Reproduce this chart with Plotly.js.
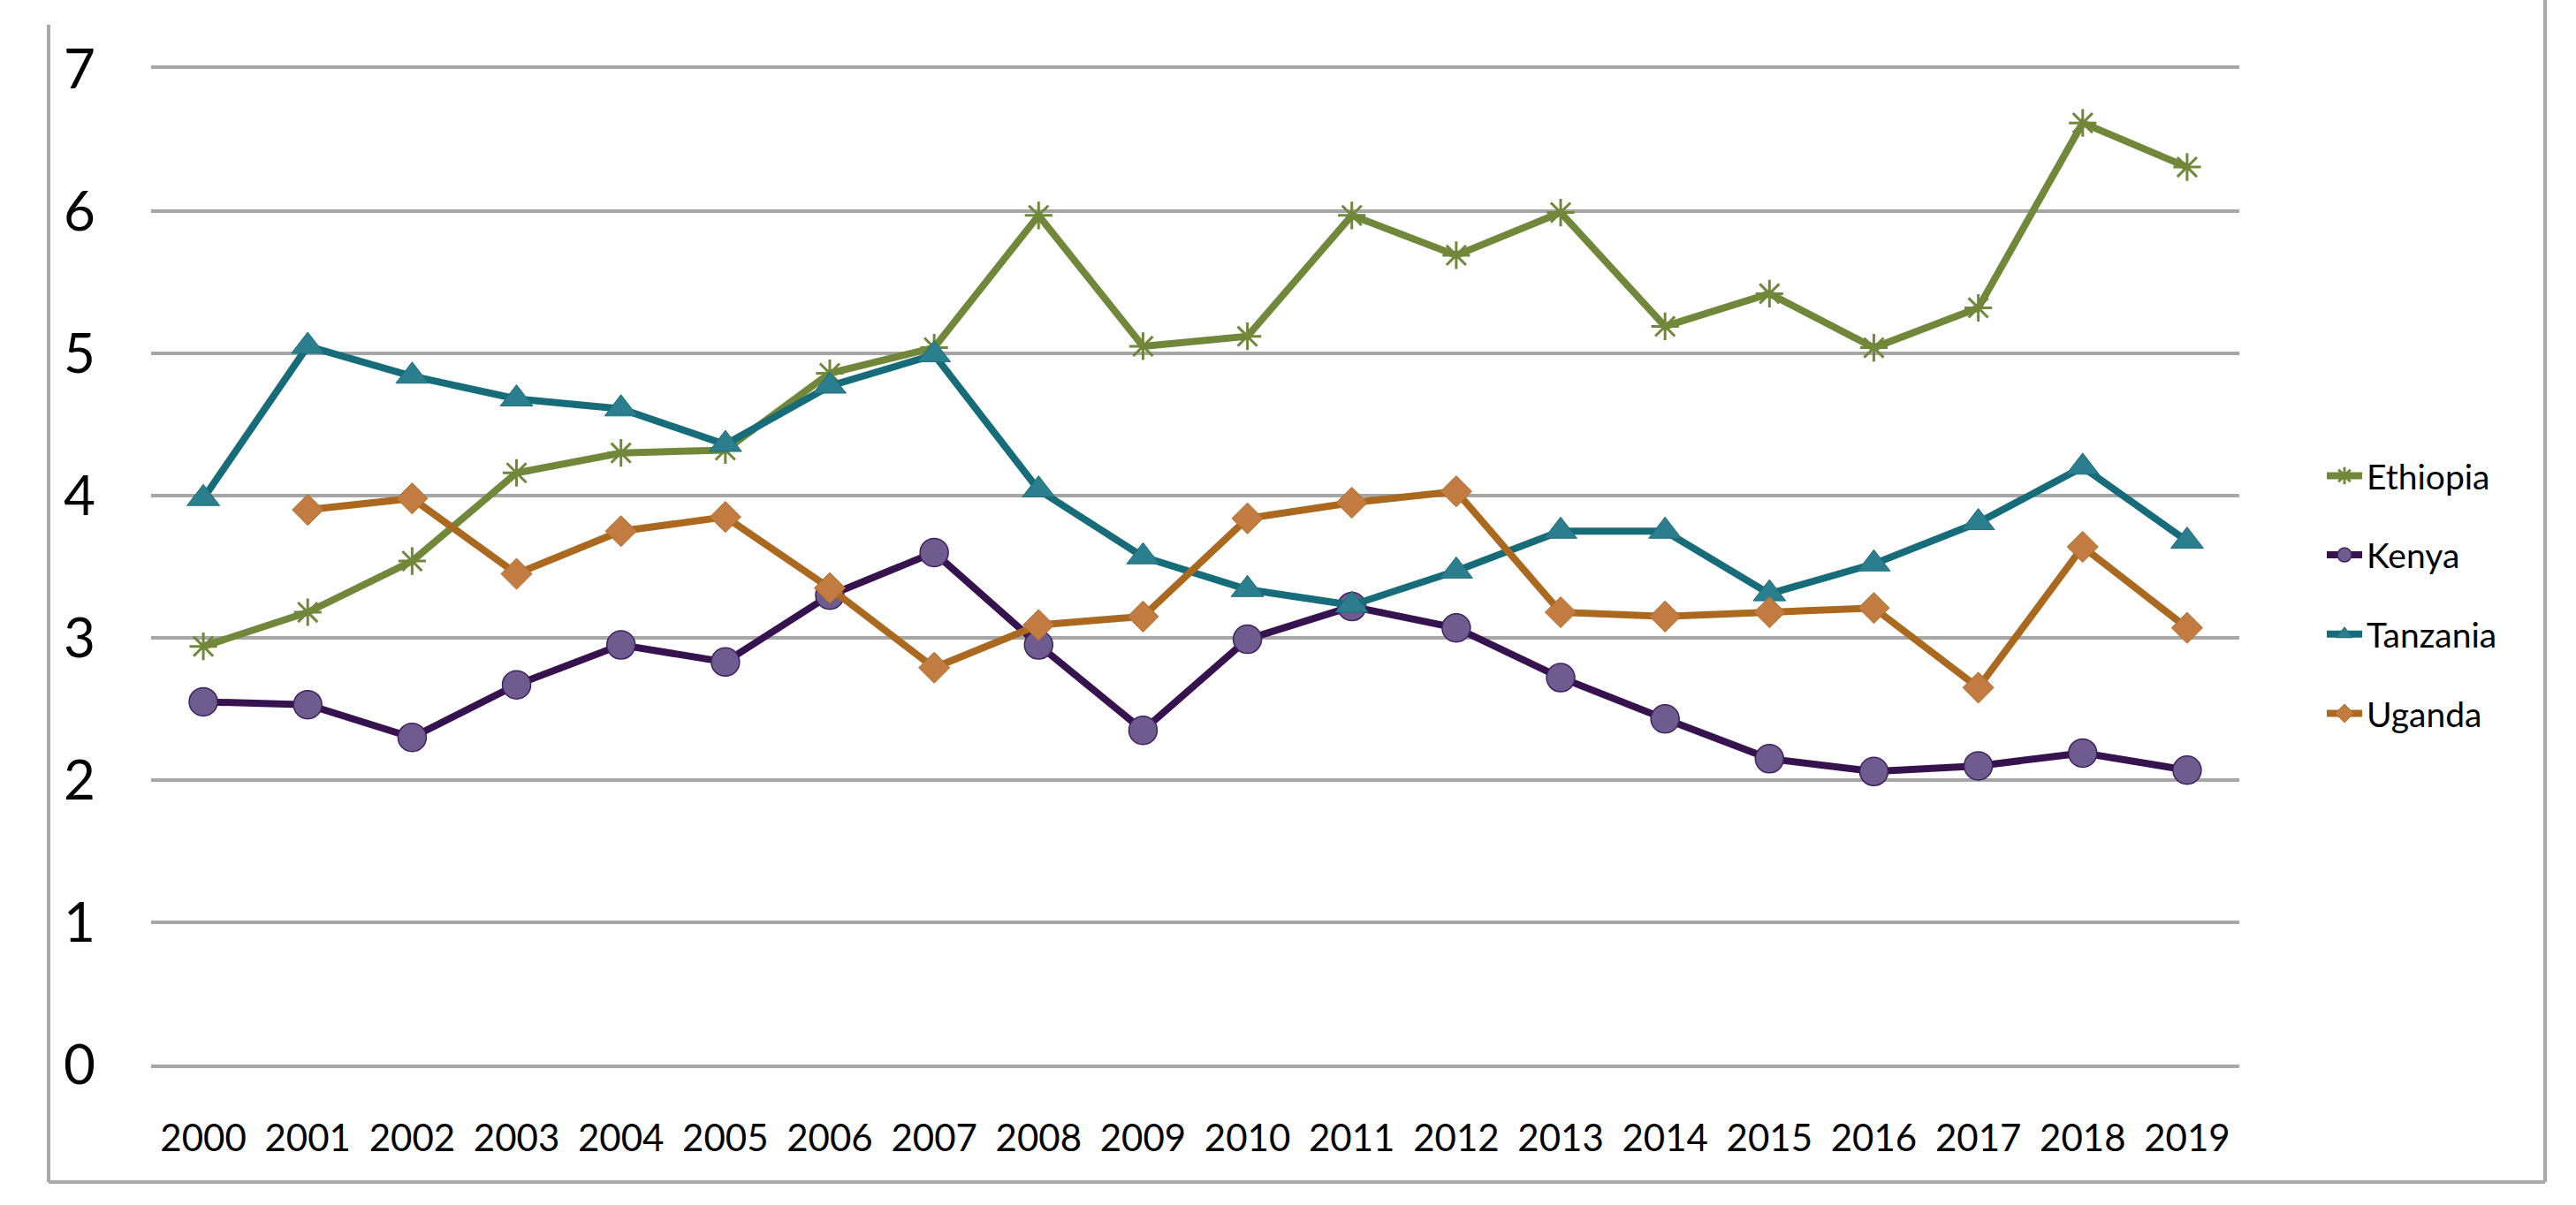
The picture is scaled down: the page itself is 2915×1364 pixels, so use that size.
<!DOCTYPE html>
<html>
<head>
<meta charset="utf-8">
<script src="https://cdn.plot.ly/plotly-3.0.1.min.js"></script>
<style>html,body{margin:0;padding:0;background:#fff;}#chart{width:2915px;height:1364px;}</style>
</head>
<body>
<div id="chart"></div>
<script>
const years = ['2000','2001','2002','2003','2004','2005','2006','2007','2008','2009','2010','2011','2012','2013','2014','2015','2016','2017','2018','2019'];
const ethiopia = [2.94,3.18,3.54,4.16,4.30,4.32,4.86,5.04,5.97,5.05,5.12,5.97,5.69,5.99,5.19,5.42,5.04,5.32,6.62,6.31];
const kenya    = [2.55,2.53,2.30,2.67,2.95,2.83,3.30,3.60,2.95,2.35,2.99,3.22,3.07,2.72,2.43,2.15,2.06,2.10,2.19,2.07];
const tanzania = [3.98,5.05,4.84,4.68,4.61,4.36,4.77,4.99,4.04,3.57,3.34,3.23,3.47,3.75,3.75,3.31,3.52,3.81,4.20,3.68];
const uganda   = [null,3.90,3.98,3.45,3.75,3.85,3.35,2.79,3.09,3.15,3.84,3.95,4.03,3.18,3.15,3.18,3.21,2.65,3.64,3.07];
const yTicks = [0,1,2,3,4,5,6,7];

const FONT = 'Lato, "Open Sans", sans-serif';

function tr(name, y, lineColor, symbol, size, fill, outline, outlineW, grp) {
  return {
    type: 'scatter', mode: 'lines+markers', name: name, x: years, y: y,
    legendgroup: grp,
    line: {color: lineColor, width: 8},
    marker: {symbol: symbol, size: size, color: fill, line: {color: outline, width: outlineW}},
    cliponaxis: false
  };
}

const data = [
  tr('Ethiopia', ethiopia, '#71873A', 'asterisk-open', 26, '#71873A', '#71873A', 3, 'g1'),
  tr('Kenya', kenya, '#36134F', 'circle', 32, '#6E5C8E', '#3E2160', 1.5, 'g2'),
  tr('Tanzania', tanzania, '#176C7A', 'triangle-up', 32, '#2B7E8D', '#1D6E7C', 1, 'g3'),
  tr('Uganda', uganda, '#AA691E', 'diamond', 27, '#C27C42', '#B06E2A', 1, 'g4')
];

const W = 2915, H = 1364;
const L = 171, R = 2534, T = 78, B = 1205;
const px = v => (v - L) / (R - L);
const py = v => (B - v) / (B - T);

const layout = {
  width: W, height: H,
  paper_bgcolor: '#ffffff', plot_bgcolor: '#ffffff',
  margin: {l: L, r: W - R, t: T, b: H - B, pad: 0},
  font: {family: FONT, color: '#000000'},
  showlegend: true,
  legend: {
    x: px(2628), xanchor: 'left', y: 0.472, yanchor: 'middle',
    font: {family: FONT, size: 39, color: '#000000'},
    traceorder: 'grouped', tracegroupgap: 36,
    bgcolor: 'rgba(0,0,0,0)', borderwidth: 0, itemwidth: 40
  },
  xaxis: {
    type: 'category', range: [-0.5, 19.5],
    showgrid: false, zeroline: false,
    showline: true, mirror: true, linecolor: '#A6A6A6', linewidth: 4,
    ticks: '', ticklabelstandoff: 44,
    tickfont: {family: FONT, size: 42, color: '#000000'}
  },
  yaxis: {
    range: [0, 7], tickvals: yTicks, ticktext: yTicks.map(String),
    showgrid: true, gridcolor: '#A6A6A6', gridwidth: 4,
    zeroline: true, zerolinecolor: '#A6A6A6', zerolinewidth: 4,
    showline: false, ticks: '', ticklabelstandoff: 62,
    tickfont: {family: FONT, size: 62, color: '#000000'}
  },
  shapes: [
    {type: 'line', xref: 'paper', yref: 'paper', x0: px(55), x1: px(55), y0: py(28), y1: py(1338), line: {color: '#A9A9A9', width: 4}},
    {type: 'line', xref: 'paper', yref: 'paper', x0: px(55), x1: px(2880), y0: py(1338), y1: py(1338), line: {color: '#A9A9A9', width: 4}},
    {type: 'line', xref: 'paper', yref: 'paper', x0: px(2880), x1: px(2880), y0: py(0), y1: py(1338), line: {color: '#A9A9A9', width: 4}}
  ]
};

Plotly.newPlot('chart', data, layout, {displayModeBar: false, staticPlot: true});
</script>
</body>
</html>
